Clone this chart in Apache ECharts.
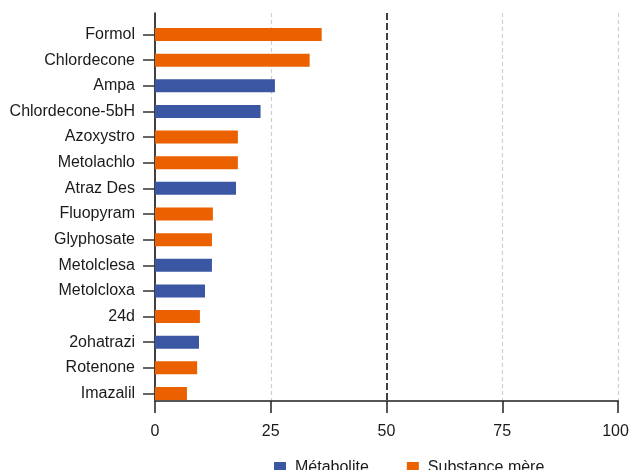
<!DOCTYPE html>
<html>
<head>
<meta charset="utf-8">
<script src="https://cdn.jsdelivr.net/npm/echarts@6/dist/echarts.min.js"></script>
<style>
  html, body { margin: 0; padding: 0; background: #ffffff; }
  #chart { width: 629px; height: 470px; }
</style>
</head>
<body>
<div id="chart"></div>
<script>
// Substances, top to bottom
const substances = [
  'Formol', 'Chlordecone', 'Ampa', 'Chlordecone-5bH', 'Azoxystro',
  'Metolachlo', 'Atraz Des', 'Fluopyram', 'Glyphosate', 'Metolclesa',
  'Metolcloxa', '24d', '2ohatrazi', 'Rotenone', 'Imazalil'
];
// Value of each substance
const values = [36.0, 33.4, 25.9, 22.8, 17.9, 17.9, 17.5, 12.5, 12.3, 12.3, 10.8, 9.7, 9.5, 9.1, 6.9];
// Type of each substance: 'M' = métabolite, 'S' = substance mère
const kinds = ['S', 'S', 'M', 'M', 'S', 'S', 'M', 'S', 'S', 'M', 'M', 'S', 'M', 'S', 'S'];
const seriesNames = { M: 'Métabolite', S: 'Substance mère' };
const xTicks = [0, 25, 50, 75, 100];
const threshold = 50;

const FONT = '"Liberation Sans", Arial, Helvetica, sans-serif';
const BLUE = '#3b56a3';
const ORANGE = '#eb6100';

const metaboliteData = values.map((v, i) => kinds[i] === 'M' ? v : null);
const mereData = values.map((v, i) => kinds[i] === 'S' ? v : null);

const xMin = xTicks[0];
const xMax = xTicks[xTicks.length - 1];

const chart = echarts.init(document.getElementById('chart'), null, { renderer: 'canvas' });

chart.setOption({
  animation: false,
  backgroundColor: '#ffffff',
  textStyle: { fontFamily: FONT },
  grid: [
    // frame: axis lines, x ticks and grid lines
    { left: 155, right: 11, top: 13, bottom: 69, outerBoundsMode: 'none', containLabel: false },
    // bars and category labels
    { left: 155, right: 11, top: 21.7, bottom: 63.7, outerBoundsMode: 'none', containLabel: false }
  ],
  xAxis: [
    {
      gridIndex: 0,
      type: 'value',
      min: xMin,
      max: xMax,
      interval: 25,
      axisLine: { show: true, lineStyle: { color: '#555555', width: 2 } },
      axisTick: { show: true, length: 12, lineStyle: { color: '#222222', width: 1.5 } },
      axisLabel: {
        fontSize: 16, color: '#1a1a1a', margin: 23, fontFamily: FONT,
        // keep the last label inside the canvas edge
        formatter: v => v === xMax ? '{last|' + v + '}' : String(v),
        rich: { last: { fontSize: 16, color: '#1a1a1a', fontFamily: FONT, padding: [0, 5, 0, 0] } }
      },
      splitLine: {
        show: true,
        lineStyle: {
          color: xTicks.map(t => (t === xMin || t === threshold) ? 'rgba(0,0,0,0)' : '#cfcfcf'),
          type: [4, 3],
          width: 1.2
        }
      }
    },
    {
      // threshold line at 50
      gridIndex: 0,
      type: 'value',
      min: xMin,
      max: xMax,
      interval: threshold,
      position: 'bottom',
      axisLine: { show: false },
      axisTick: { show: false },
      axisLabel: { show: false },
      splitLine: {
        show: true,
        lineStyle: {
          color: ['rgba(0,0,0,0)', '#111111', 'rgba(0,0,0,0)'],
          type: [7, 3],
          width: 1.6
        }
      }
    },
    {
      gridIndex: 1,
      type: 'value',
      min: xMin,
      max: xMax,
      show: false
    }
  ],
  yAxis: [
    {
      gridIndex: 0,
      type: 'value',
      min: 0,
      max: 1,
      axisLine: { show: true, onZero: false, lineStyle: { color: '#000000', width: 1.5 } },
      axisTick: { show: false },
      axisLabel: { show: false },
      splitLine: { show: false }
    },
    {
      gridIndex: 1,
      type: 'category',
      inverse: true,
      data: substances,
      axisLine: { show: false },
      axisTick: { show: true, alignWithLabel: true, length: 12, lineStyle: { color: '#333333', width: 1.5 } },
      axisLabel: { fontSize: 16, color: '#1a1a1a', margin: 20, fontFamily: FONT },
      splitLine: { show: false }
    }
  ],
  legend: {
    left: 269,
    top: 455,
    itemWidth: 12,
    itemHeight: 12,
    itemGap: 38,
    icon: 'rect',
    textStyle: { fontSize: 16, color: '#1a1a1a', fontFamily: FONT, padding: [0, 0, 0, 4] },
    data: [seriesNames.M, seriesNames.S]
  },
  series: [
    {
      name: seriesNames.M,
      type: 'bar',
      xAxisIndex: 2,
      yAxisIndex: 1,
      data: metaboliteData,
      barWidth: 13,
      barGap: '-100%',
      itemStyle: { color: BLUE }
    },
    {
      name: seriesNames.S,
      type: 'bar',
      xAxisIndex: 2,
      yAxisIndex: 1,
      data: mereData,
      barWidth: 13,
      barGap: '-100%',
      itemStyle: { color: ORANGE }
    }
  ]
});
</script>
</body>
</html>
